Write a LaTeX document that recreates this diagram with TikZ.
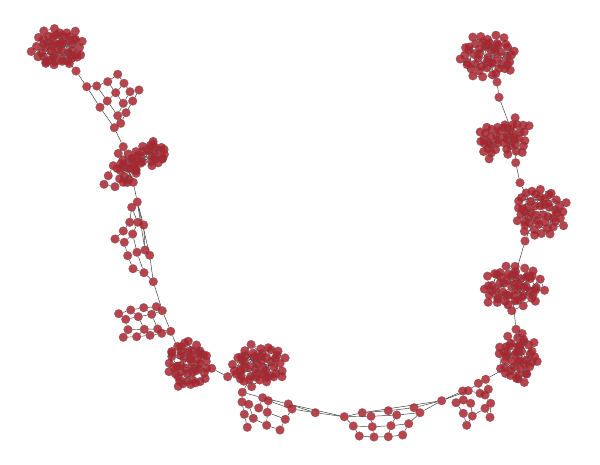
\documentclass[tikz,border=0pt]{standalone}
\usepackage{tikz}
\usetikzlibrary{arrows,positioning}
\pgfdeclarelayer{edges}
\pgfsetlayers{edges,main}
\definecolor{vred}{RGB}{172,36,46}
\tikzset{
    %Define style for vertices
    vtx/.style={
           circle,
           fill=vred, fill opacity=0.85,
           draw=gray!70!black, draw opacity=0.6,
           line width=0.35pt,
           inner sep=0pt,
           minimum size=8.7pt},
    % Define edge style
    lnk/.style={
           draw=gray!40!black,
           line width=0.45pt}
}
% dense cluster: name, cx, cy, rx, ry, count
\newcommand{\blob}[6]{%
  \foreach \i in {1,...,#6}{%
    \pgfmathsetmacro{\rr}{sqrt((\i-0.5)/#6)}%
    \pgfmathsetmacro{\aa}{137.508*\i}%
    \pgfmathsetmacro{\px}{#2+#4*\rr*cos(\aa)+2.8*rand}%
    \pgfmathsetmacro{\py}{#3+#5*\rr*sin(\aa)+2.8*rand}%
    \node[vtx] (#1-\i) at (\px,\py) {};
  }%
}
% edges inside a cluster: name, count
\newcommand{\blobedges}[2]{%
  \foreach \i in {1,...,#2}{%
    \pgfmathtruncatemacro{\ja}{\i+8}%
    \pgfmathtruncatemacro{\jb}{\i+13}%
    \pgfmathtruncatemacro{\jc}{random(1,#2)}%
    \ifnum\ja>#2\else\draw[lnk] (#1-\i) -- (#1-\ja);\fi
    \ifnum\jb>#2\else\draw[lnk] (#1-\i) -- (#1-\jb);\fi
    \ifodd\i\ifnum\jc=\i\else\draw[lnk] (#1-\i) -- (#1-\jc);\fi\fi
  }%
}

\begin{document}
\begin{tikzpicture}[x=1pt,y=-1pt]
\pgfmathsetseed{11}
\useasboundingbox (0,0) rectangle (600,465);

 %clusters
\blob{ba}{58}{48}{26}{20}{52}
\blob{bb}{152}{154}{16}{13}{25}
\blob{bc}{127}{167}{12}{15}{21}
\blob{bd}{188}{364}{22}{24}{50}
\blob{be}{258}{366}{27}{21}{52}
\blob{bf}{518}{358}{19}{24}{46}
\blob{bg}{513}{287}{30}{22}{57}
\blob{bh}{540}{212}{26}{24}{50}
\blob{bi}{490}{141}{11}{16}{19}
\blob{bj}{514}{136}{15}{19}{27}
\blob{bk}{488}{56}{27}{22}{52}

 %single nodes between clusters
\foreach \n/\x/\y in {a0/76/71, q0/123.3/146.7, q1/104/184.3, q2/108.3/175.7,
    q3/115/186.7, q4/113.3/165.7, q5/123.3/182.3, q6/133.3/182.3,
    t1/211.7/368.3, t2/227.7/376.7, v1/315.3/412.7,
    k1/516/329.3, m1/525/241, n1/520/182.7, g1/515.7/162.7,
    o0/497/82, o1/499/97.3}
  \node[vtx] (\n) at (\x,\y) {};

 %ladders
\foreach \n/\x/\y in {p1/86.7/86.7, p2/96.7/86, p3/107.7/81.7, p4/117.7/74.3,
    p5/124/83.3, p6/115.7/92.7, p7/107.3/101, p8/100/107.3, p9/130/91.7,
    p10/139/90, p11/123.3/103.3, p12/132.7/101, p13/117.7/115.7,
    p14/126/112.7, p15/120.7/123.3, p16/114.3/127.7}
  \node[vtx] (\n) at (\x,\y) {};
\foreach \n/\x/\y in {r1/137.3/202, r2/131.7/207.3, r3/129.7/222.3, r4/137.7/222.3,
    r5/143.7/225, r6/123.3/231, r7/132.7/234, r8/115/239, r9/124.3/242.3,
    r10/137/252.3, r11/145/250, r12/149.7/255.3, r13/127.7/255.7,
    r14/133/268.7, r15/144/272.7, r16/153.3/281.7}
  \node[vtx] (\n) at (\x,\y) {};
\foreach \n/\x/\y in {s1/162.3/310.7, s2/118.7/313.7, s3/130.7/310, s4/143.7/307.7,
    s5/156.3/306.7, s6/125.7/319.3, s7/138.3/316.7, s8/151.7/314.3,
    s9/128/329.7, s10/144.3/329.3, s11/157.7/329, s12/170.7/331.3,
    s13/123.3/337.3, s14/136.7/336.7, s15/150/335.3, s16/161.7/333.3}
  \node[vtx] (\n) at (\x,\y) {};
\foreach \n/\x/\y in {u1/242.3/392.3, u2/242/402, u3/248.7/404.3, u4/262.7/397.7,
    u5/268.3/400.7, u6/288.3/404, u7/292/409, u8/258.7/408, u9/267.3/412.3,
    u10/244.3/414.3, u11/253.3/418.3, u12/285.3/419.3, u13/266.7/425.3,
    u14/247.3/427.3, u15/280/430}
  \node[vtx] (\n) at (\x,\y) {};
\foreach \n/\x/\y in {w1/344.3/416.7, w2/362.3/412.7, w3/371/416.3, w4/388.3/410.7,
    w5/396.7/415, w6/414/407.7, w7/420/412.7, w8/441.7/400.7,
    w9/353.3/426, w10/372.3/426.7, w11/391/425.7, w12/408.7/423.7,
    w13/359.3/436, w14/374/437, w15/388.3/436.7, w16/402.7/435}
  \node[vtx] (\n) at (\x,\y) {};
\foreach \n/\x/\y in {h1/462.7/391, h2/468.3/390.7, h3/478.3/383.3, h4/485.7/379.3,
    h5/456/402.7, h6/463.3/400, h7/470.7/403.3, h8/480/393.3, h9/488.3/389.3,
    h10/485/395, h11/490.7/403.3, h12/463.3/413.3, h13/472.3/416,
    h14/485/408.3, h15/466.7/425.3, h16/490/417.3}
  \node[vtx] (\n) at (\x,\y) {};

 %edges
\begin{pgfonlayer}{edges}
\fill[white] (0,0) rectangle (600,465);
\blobedges{ba}{52}
\blobedges{bb}{25}
\blobedges{bc}{21}
\blobedges{bd}{50}
\blobedges{be}{52}
\blobedges{bf}{46}
\blobedges{bg}{57}
\blobedges{bh}{50}
\blobedges{bi}{19}
\blobedges{bj}{27}
\blobedges{bk}{52}
\foreach \a/\b in {ba-1/a0, a0/p1,
    p1/p2, p2/p3, p3/p4, p4/p5, p5/p9, p9/p10, p3/p6, p6/p11, p11/p12,
    p2/p7, p7/p13, p13/p14, p1/p8, p8/p16, p5/p6, p6/p7, p7/p8, p9/p11,
    p11/p13, p10/p12, p12/p14, p14/p15, p15/p16, p16/q0,
    q0/bc-1, bb-1/bc-1, bb-3/bc-2, q4/bc-1, q2/q4, q1/q2, q1/q3, q3/q5,
    q5/q6, q6/bc-1, q6/r1,
    r1/r2, r2/r3, r2/r4, r1/r5, r1/r11, r1/r12, r3/r4, r4/r5, r3/r6,
    r4/r7, r6/r7, r6/r8, r7/r9, r8/r9, r9/r13, r7/r10, r5/r11, r10/r11,
    r11/r12, r13/r10, r13/r14, r14/r15, r10/r15, r15/r16, r12/r16,
    r16/s1, s1/s5, s5/s4, s4/s3, s3/s2, s2/s6, s6/s7, s7/s8, s8/s1,
    s3/s7, s4/s8, s6/s9, s7/s10, s8/s11, s1/s12, s9/s10, s10/s11,
    s11/s12, s9/s13, s10/s14, s11/s15, s12/s16, s13/s14, s14/s15,
    s15/s16, s12/bd-1,
    bd-1/t1, t1/t2, t2/be-1,
    be-1/u1, u1/u2, u1/u4, u4/u6, u6/v1, u2/u10, u10/u14, u2/u3, u3/u8,
    u3/u11, u4/u5, u4/u8, u5/u9, u8/u9, u5/u7, u6/u7, u7/v1, u9/u12,
    u9/u13, u10/u11, u11/u13, u13/u15, u12/u15, u12/u7, u6/w1,
    v1/w1, w1/w2, w1/w3, w2/w4, w3/w5, w4/w6, w5/w7, w6/w8, w7/w8,
    w1/w9, w9/w10, w10/w11, w11/w12, w3/w10, w5/w11, w7/w12, w9/w13,
    w13/w14, w14/w15, w15/w16, w10/w14, w11/w15, w12/w16, w2/w8,
    w8/h1, w8/h2,
    h1/h2, h2/h3, h3/h4, h4/bf-1, h1/h6, h5/h6, h6/h7, h2/h8, h3/h8,
    h4/h9, h8/h10, h9/h10, h10/h11, h7/h13, h5/h12, h12/h13, h12/h15,
    h13/h14, h14/h16, h11/h16, h15/h13,
    bf-1/k1, k1/bg-1, bg-1/m1, m1/bh-1, bh-1/n1, n1/g1, g1/bj-1,
    bj-1/o1, o1/o0, o0/bk-1, bi-1/bj-1, bi-3/bj-5, bi-8/bj-2}
  \draw[lnk] (\a) -- (\b);
\end{pgfonlayer}

\end{tikzpicture}
\end{document}
